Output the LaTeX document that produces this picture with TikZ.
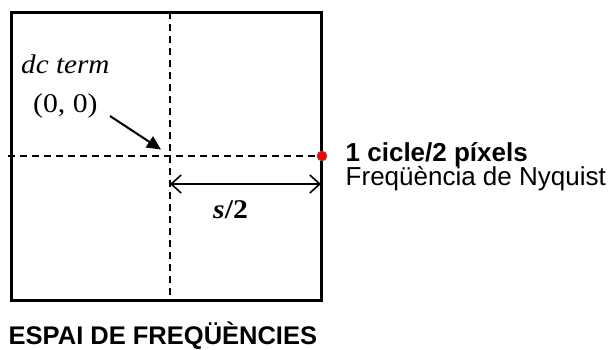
\documentclass[tikz,border=0pt]{standalone}
\usepackage{fontspec}
\setmainfont{Liberation Serif}
\newfontfamily\arialfont{Liberation Sans}
\usetikzlibrary{arrows.meta}
\begin{document}
\begin{tikzpicture}[x=1pt,y=-1pt,
  frame/.style={line width=3pt},
  axisline/.style={line width=1.5pt, dash pattern=on 7pt off 5pt},
  dimline/.style={line width=1.6pt,
    {Straight Barb[length=10pt,width=18pt]}-{Straight Barb[length=10pt,width=18pt]}},
  pointer/.style={line width=2pt, -{Triangle[length=14pt,width=13pt]}},
  seriflabel/.style={font=\fontsize{27}{30}\selectfont, inner sep=0pt, anchor=base west},
  sanslabel/.style={font=\arialfont\fontsize{26}{30}\selectfont, inner sep=0pt, anchor=base west},
  reddot/.style={circle, fill=red, draw=black!60, line width=0.6pt, minimum size=10pt, inner sep=0pt}
]
\useasboundingbox (0,0) rectangle (615,349);

% frequency square
\coordinate (nw) at (11,12);
\coordinate (se) at (321,300);
\draw[frame] (nw) rectangle (se);

% centre axes
\coordinate (vtop) at (170,12);
\coordinate (vbot) at (170,300);
\coordinate (hleft) at (8,156);
\coordinate (hright) at (321,156);
\draw[axisline] (vtop) -- (vbot);
\draw[axisline] (hleft) -- (hright);

% dc term label and pointer
\node[seriflabel] (dc) at (21,73.5) {\scalebox{1.08}[1]{\itshape dc term}};
\node[seriflabel] (origin) at (33,112) {\scalebox{1.1}[1]{(0, 0)}};
\coordinate (ptrstart) at (110,116);
\coordinate (ptrend) at (161,149.5);
\draw[pointer] (ptrstart) -- (ptrend);

% half sampling distance
\coordinate (dimL) at (170,184);
\coordinate (dimR) at (321,184);
\draw[dimline] (dimL) -- (dimR);
\node[seriflabel] (half) at (213,218.5) {\scalebox{1.1}[1]{{\bfseries\itshape s}{\bfseries /2}}};

% Nyquist point
\node[reddot] (nyq) at (322,156) {};
\node[sanslabel] (cyc) at (345.5,161.5) {\bfseries 1 cicle/2 píxels};
\node[sanslabel] (nyqtext) at (345.5,185) {Freqüència de Nyquist};

% caption
\node[sanslabel, font=\arialfont\bfseries\fontsize{25.5}{30}\selectfont] (title) at (8.5,344.5) {ESPAI DE FREQÜÈNCIES};
\end{tikzpicture}
\end{document}
